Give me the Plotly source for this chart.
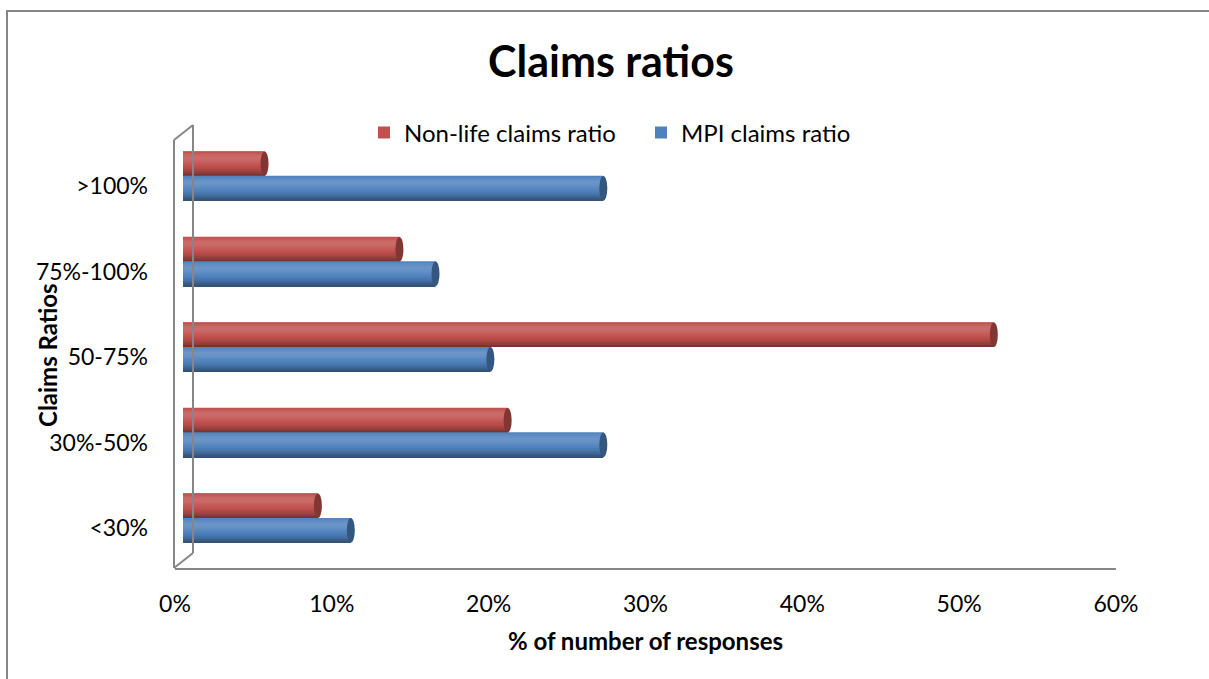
import plotly.graph_objects as go

# ---- data -------------------------------------------------------------
categories = ['<30%', '30%-50%', '50-75%', '75%-100%', '>100%']
non_life_ratio = [8.6, 20.7, 51.7, 13.8, 5.2]   # % of responses
mpi_ratio = [10.7, 26.8, 19.6, 16.1, 26.8]       # % of responses
x_tick_values = [0, 10, 20, 30, 40, 50, 60]
x_tick_labels = ['0%', '10%', '20%', '30%', '40%', '50%', '60%']

# ---- geometry ---------------------------------------------------------
W, H = 1209, 679
L, R, T, B = 175, 93, 125, 111
PW, PH = W - L - R, H - T - B
PX_PER_PCT = PW / 60.0
DEPTH = 8                      # horizontal depth shift of the bars (px)
THICK = 0.287                  # bar thickness in category units
CAP = 4.0 / PX_PER_PCT         # half-width of cylinder end caps (in %)


def px(x):
    return (x - L) / PW


def py(y):
    return (H - B - y) / PH


FONT = 'Lato'
GREY = '#868686'
RED = (192, 80, 77)
BLUE = (79, 129, 189)


def mix(rgb, f):
    if f >= 0:
        c = [v + (255 - v) * f for v in rgb]
    else:
        c = [v * (1 + f) for v in rgb]
    return 'rgb(%d,%d,%d)' % tuple(int(round(v)) for v in c)


# cylinder shading, top edge to bottom edge
SHADE = [0.02, 0.08, 0.13, 0.16, 0.15, 0.12, 0.08, 0.04, 0.0,
         -0.05, -0.11, -0.18, -0.26, -0.36]
N = len(SHADE)

pos = list(range(len(categories)))
fig = go.Figure()

series = [
    ('Non-life claims ratio', non_life_ratio, RED, THICK),
    ('MPI claims ratio', mpi_ratio, BLUE, 0.0),
]

shapes = []
for name, vals, rgb, top in series:
    fig.add_trace(go.Bar(
        x=vals, y=pos, orientation='h', name=name,
        marker=dict(color=mix(rgb, 0), line=dict(width=0)),
        width=THICK, offset=top - THICK,
        xaxis='x2', yaxis='y', hoverinfo='skip',
    ))
    w = THICK / N
    for i, s in enumerate(SHADE):
        fig.add_trace(go.Bar(
            x=vals, y=pos, orientation='h', showlegend=False,
            marker=dict(color=mix(rgb, s), line=dict(width=0)),
            width=w * 1.05, offset=top - (i + 1) * w,
            xaxis='x2', yaxis='y', hoverinfo='skip',
        ))
    for p, v in zip(pos, vals):
        y0, y1 = p + top - THICK, p + top
        shapes.append(dict(type='circle', xref='x2', yref='y',
                           x0=v - CAP, x1=v + CAP, y0=y0, y1=y1,
                           fillcolor=mix(rgb, -0.33), line=dict(width=0),
                           layer='above'))
        shapes.append(dict(type='circle', xref='x2', yref='y',
                           x0=-CAP, x1=CAP, y0=y0, y1=y1,
                           fillcolor=mix(rgb, 0.02), line=dict(width=0),
                           layer='below'))

# invisible trace holding the tick axis
fig.add_trace(go.Scatter(x=[0, 60], y=[None, None], mode='markers',
                         marker=dict(opacity=0), showlegend=False,
                         hoverinfo='skip'))

# 3-D wall outline and chart frame
def seg(x0, y0, x1, y1, w=2):
    return dict(type='line', xref='paper', yref='paper',
                x0=px(x0), y0=py(y0), x1=px(x1), y1=py(y1),
                line=dict(color=GREY, width=w), layer='above')


shapes += [
    seg(174, 568, 174, 140),
    seg(174, 140, 193, 125),
    seg(193, 125, 193, 553),
    seg(174, 568, 193, 553),
    dict(type='rect', xref='paper', yref='paper',
         x0=px(7), y0=py(11), x1=px(W + 20), y1=py(H + 20),
         line=dict(color=GREY, width=2), fillcolor='rgba(0,0,0,0)'),
]

fig.update_layout(
    width=W, height=H,
    margin=dict(l=L, r=R, t=T, b=B, pad=0),
    paper_bgcolor='white', plot_bgcolor='white',
    barmode='overlay',
    font=dict(family=FONT, color='black', size=23),
    title=dict(text='<b>Claims ratios</b>', x=611 / W, xref='container',
               xanchor='center', y=1 - 62 / H, yref='container',
               yanchor='middle', font=dict(family=FONT, size=43, color='black')),
    xaxis=dict(domain=[0, 1], range=[0, 60], tickvals=x_tick_values,
               ticktext=x_tick_labels, showgrid=False, zeroline=False,
               showline=True, linecolor=GREY, linewidth=2, ticks='',
               ticklabelstandoff=14, anchor='y', fixedrange=True,
               tickfont=dict(family=FONT, size=23, color='black'),
               title=dict(text='<b>% of number of responses</b>',
                          font=dict(family=FONT, size=24, color='black'),
                          standoff=18)),
    xaxis2=dict(domain=[DEPTH / PW, 1], range=[0, 60 - DEPTH / PX_PER_PCT],
                visible=False, anchor='y', fixedrange=True),
    yaxis=dict(range=[-0.585, 4.596], tickvals=pos, ticktext=categories,
               showgrid=False, zeroline=False, showline=False, ticks='',
               ticklabelstandoff=26, ticklabelshift=10, fixedrange=True,
               tickfont=dict(family=FONT, size=23, color='black')),
    legend=dict(orientation='h', x=px(364), y=py(133), xref='paper',
                yref='paper', xanchor='left', yanchor='middle',
                entrywidth=232, bgcolor='rgba(0,0,0,0)',
                font=dict(family=FONT, size=24, color='black'),
                traceorder='normal'),
    annotations=[dict(text='<b>Claims Ratios</b>', textangle=-90,
                      x=px(47), y=py(355), xref='paper', yref='paper',
                      showarrow=False, xanchor='center', yanchor='middle',
                      font=dict(family=FONT, size=24, color='black'))],
    shapes=shapes,
    showlegend=True,
)

fig.write_html('out.html')
